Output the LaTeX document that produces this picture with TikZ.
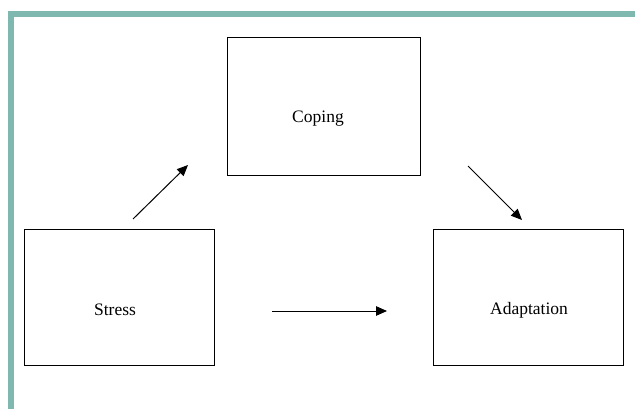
\documentclass[tikz,border=0pt]{standalone}
\usepackage{fontspec}
\setmainfont{Liberation Serif}
\usetikzlibrary{arrows.meta}
\definecolor{teal1}{HTML}{7FB8AE}
\tikzset{
  box/.style={draw=black, line width=1pt, inner sep=0pt, anchor=north west},
  lbl/.style={font=\fontsize{17.5}{20}\selectfont, inner sep=0pt},
  arr/.style={line width=1pt, -{Triangle[length=11pt,width=9.5pt]}},
  bar/.style={fill=teal1, draw=none}
}
\begin{document}
\begin{tikzpicture}[x=1pt,y=-1pt]
\useasboundingbox (0,0) rectangle (635,409);
\fill[bar] (8,11) rectangle (635,17.5);
\fill[bar] (8,11) rectangle (14,409);
\node[box, minimum width=193pt, minimum height=138pt] (coping) at (227,37) {};
\node[box, minimum width=190pt, minimum height=136pt] (stress) at (24,229) {};
\node[box, minimum width=190pt, minimum height=136pt] (adapt) at (433,229) {};
\node[lbl] (tcoping) at (318,119) {Coping};
\node[lbl] (tstress) at (115,310) {Stress};
\node[lbl] (tadapt) at (529,310) {Adaptation};
\coordinate (a1s) at (133,219);
\coordinate (a1e) at (188,165);
\coordinate (a2s) at (272,311);
\coordinate (a2e) at (387,311);
\coordinate (a3s) at (468,166);
\coordinate (a3e) at (522,220);
\draw[arr] (a1s) -- (a1e);
\draw[arr] (a2s) -- (a2e);
\draw[arr] (a3s) -- (a3e);
\end{tikzpicture}
\end{document}
